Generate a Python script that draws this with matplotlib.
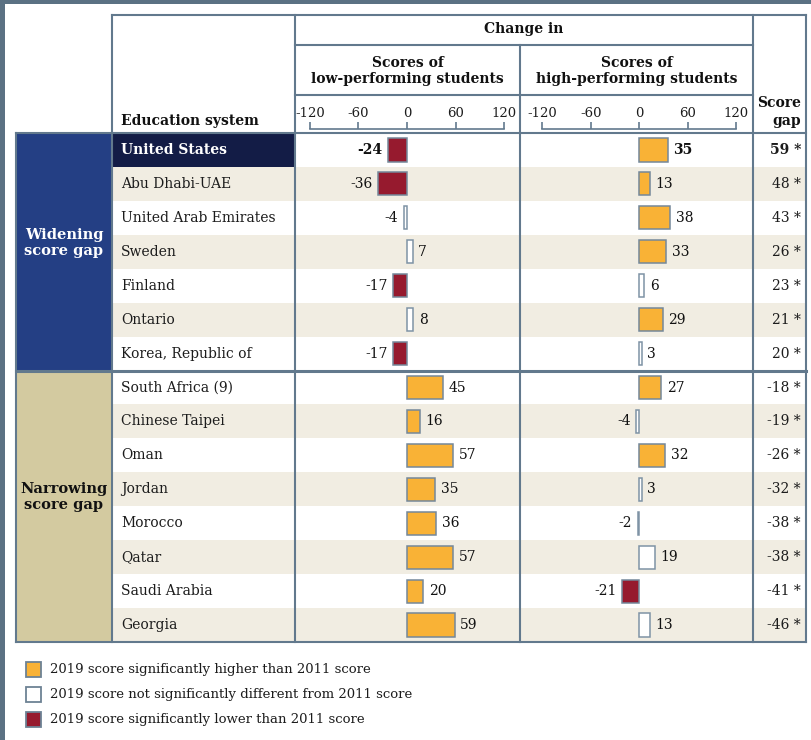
import matplotlib
matplotlib.use('Agg')
import matplotlib.pyplot as plt
from matplotlib.patches import Rectangle

plt.rcParams['font.family'] = ['DejaVu Serif']
plt.rcParams['axes.unicode_minus'] = False

# ---------------- data ----------------
systems = ["United States", "Abu Dhabi-UAE", "United Arab Emirates", "Sweden",
           "Finland", "Ontario", "Korea, Republic of",
           "South Africa (9)", "Chinese Taipei", "Oman", "Jordan", "Morocco",
           "Qatar", "Saudi Arabia", "Georgia"]
group_labels = ["Widening\nscore gap", "Narrowing\nscore gap"]
group_sizes = [7, 8]
low_change = [-24, -36, -4, 7, -17, 8, -17, 45, 16, 57, 35, 36, 57, 20, 59]
low_sig = ['L', 'L', 'N', 'N', 'L', 'N', 'L', 'H', 'H', 'H', 'H', 'H', 'H', 'H', 'H']
high_change = [35, 13, 38, 33, 6, 29, 3, 27, -4, 32, 3, -2, 19, -21, 13]
high_sig = ['H', 'H', 'H', 'H', 'N', 'H', 'N', 'H', 'N', 'H', 'N', 'N', 'N', 'L', 'N']
score_gap = [59, 48, 43, 26, 23, 21, 20, -18, -19, -26, -32, -38, -38, -41, -46]
tick_values = [-120, -60, 0, 60, 120]
legend_labels = ["2019 score significantly higher than 2011 score",
                 "2019 score not significantly different from 2011 score",
                 "2019 score significantly lower than 2011 score"]
legend_keys = ['H', 'N', 'L']

# ---------------- style ----------------
W, H = 812, 740
FRAME = '#5b7183'
LINE = '#62798d'
BLUE = '#243f84'
NAVY = '#131c46'
BEIGE = '#f1ede2'
TAN = '#d3caa0'
TXT = '#1c1c1c'
FILL = {'H': '#f9b236', 'N': '#ffffff', 'L': '#961a2e'}
EDGE = {'H': '#74889a', 'N': '#7f93a5', 'L': '#74889a'}
FS = 10

X_G0, X_E0, X_L0, X_H0, X_S0, X_R = 16, 112, 295, 520, 753, 806
Y_T, Y_C, Y_S, Y_B0, Y_END = 15, 45, 95, 133, 642
n = len(systems)
row_h = (Y_END - Y_B0) / n
PXU = 0.81  # pixels per score point
ZERO_LOW, ZERO_HIGH = 407, 639.3


def fax(x0, y0, x1, y1):
    return [x0 / W, 1 - y1 / H, (x1 - x0) / W, (y1 - y0) / H]


fig = plt.figure(figsize=(W / 100, H / 100), dpi=100)
fig.patch.set_facecolor('white')
ax = fig.add_axes([0, 0, 1, 1])
ax.set_xlim(0, W)
ax.set_ylim(H, 0)
ax.axis('off')

# frame
ax.add_patch(Rectangle((0, 0), W, 4, color=FRAME, lw=0))
ax.add_patch(Rectangle((0, 0), 5, H, color=FRAME, lw=0))

# group cells and row shading
start = 0
for g, size in enumerate(group_sizes):
    y0 = Y_B0 + start * row_h
    y1 = Y_B0 + (start + size) * row_h
    ax.add_patch(Rectangle((X_G0, y0), X_E0 - X_G0, y1 - y0,
                           color=BLUE if g == 0 else TAN, lw=0))
    ax.text((X_G0 + X_E0) / 2, (y0 + y1) / 2 - 9, group_labels[g],
            ha='center', va='center', fontsize=10.5, fontweight='bold',
            color='white' if g == 0 else '#111111', linespacing=1.15)
    for k in range(size):
        i = start + k
        ry = Y_B0 + i * row_h
        if k % 2 == 1:
            ax.add_patch(Rectangle((X_E0, ry), X_R - X_E0, row_h, color=BEIGE, lw=0))
    start += size

# highlighted US cell
ax.add_patch(Rectangle((X_E0, Y_B0), X_L0 - X_E0, row_h, color=NAVY, lw=0))

# system names and score gaps
for i, name in enumerate(systems):
    cy = Y_B0 + (i + 0.5) * row_h
    us = (i == 0)
    ax.text(121, cy, name, ha='left', va='center', fontsize=FS,
            fontweight='bold' if us else 'normal',
            color='white' if us else TXT)
    ax.text(801, cy, f"{score_gap[i]} *", ha='right', va='center', fontsize=FS,
            fontweight='bold' if us else 'normal', color=TXT)

# grid lines
lw = 1.5
sep = Y_B0 + group_sizes[0] * row_h
ax.plot([X_E0, X_R], [Y_T, Y_T], color=LINE, lw=lw)
ax.plot([X_L0, X_S0], [Y_C, Y_C], color=LINE, lw=lw)
ax.plot([X_L0, X_S0], [Y_S, Y_S], color=LINE, lw=lw)
ax.plot([X_G0, X_R], [Y_B0, Y_B0], color=LINE, lw=lw)
ax.plot([X_G0, X_R], [sep, sep], color=LINE, lw=2.2)
ax.plot([X_G0, X_R], [Y_END, Y_END], color=LINE, lw=lw)
ax.plot([X_G0, X_G0], [Y_B0, Y_END], color=LINE, lw=lw)
ax.plot([X_E0, X_E0], [Y_T, Y_END], color=LINE, lw=lw)
ax.plot([X_L0, X_L0], [Y_T, Y_END], color=LINE, lw=lw)
ax.plot([X_H0, X_H0], [Y_C, Y_END], color=LINE, lw=lw)
ax.plot([X_S0, X_S0], [Y_T, Y_END], color=LINE, lw=lw)
ax.plot([X_R, X_R], [Y_T, Y_END], color=LINE, lw=lw)

# header text
ax.text((X_L0 + X_S0) / 2, 29, "Change in", ha='center', va='center',
        fontsize=FS, fontweight='bold', color='#111111')
ax.text((X_L0 + X_H0) / 2, 71, "Scores of\nlow-performing students", ha='center',
        va='center', fontsize=FS, fontweight='bold', color='#111111', linespacing=1.1)
ax.text((X_H0 + X_S0) / 2, 71, "Scores of\nhigh-performing students", ha='center',
        va='center', fontsize=FS, fontweight='bold', color='#111111', linespacing=1.1)
ax.text(121, 121, "Education system", ha='left', va='center', fontsize=FS,
        fontweight='bold', color='#111111')
ax.text(801, 112, "Score\ngap", ha='right', va='center', fontsize=FS,
        fontweight='bold', color='#111111', linespacing=1.3)

# legend
for k, (key, lab) in enumerate(zip(legend_keys, legend_labels)):
    ly = 662 + k * 25
    ax.add_patch(Rectangle((26, ly), 15, 15, facecolor=FILL[key],
                           edgecolor='#6d8294', lw=1.3))
    ax.text(50, ly + 7.5, lab, ha='left', va='center', fontsize=9.5, color=TXT)


# bar columns
def bar_column(x0, x1, zero, values, sig):
    lim = ((x0 - zero) / PXU, (x1 - zero) / PXU)
    bx = fig.add_axes(fax(x0, Y_B0, x1, Y_END))
    bx.set_facecolor('none')
    bx.set_xlim(*lim)
    bx.set_ylim(n - 0.5, -0.5)
    bx.axis('off')
    bx.barh(range(n), values, height=0.68,
            color=[FILL[s] for s in sig],
            edgecolor=[EDGE[s] for s in sig], linewidth=1.1)
    for i, v in enumerate(values):
        bx.annotate(f"{v}", xy=(v, i), xytext=(4 if v > 0 else -4, 0),
                    textcoords='offset points', ha='left' if v > 0 else 'right',
                    va='center', fontsize=FS, color='#111111',
                    fontweight='bold' if i == 0 else 'normal')
    # ruler
    rx = fig.add_axes(fax(x0, 121, x1, 129))
    rx.set_facecolor('none')
    rx.set_xlim(*lim)
    for s in ['left', 'right', 'top']:
        rx.spines[s].set_visible(False)
    rx.spines['bottom'].set_color(LINE)
    rx.spines['bottom'].set_linewidth(1.2)
    rx.spines['bottom'].set_bounds(tick_values[0], tick_values[-1])
    rx.set_yticks([])
    rx.set_xticks(tick_values)
    rx.set_xticklabels([str(t) for t in tick_values])
    rx.tick_params(axis='x', direction='in', length=5, width=1.2, color=LINE,
                   bottom=True, top=False, labelbottom=False, labeltop=True,
                   pad=1, labelsize=9.5, labelcolor=TXT)


bar_column(X_L0, X_H0, ZERO_LOW, low_change, low_sig)
bar_column(X_H0, X_S0, ZERO_HIGH, high_change, high_sig)

fig.savefig('out.png', dpi=100)
